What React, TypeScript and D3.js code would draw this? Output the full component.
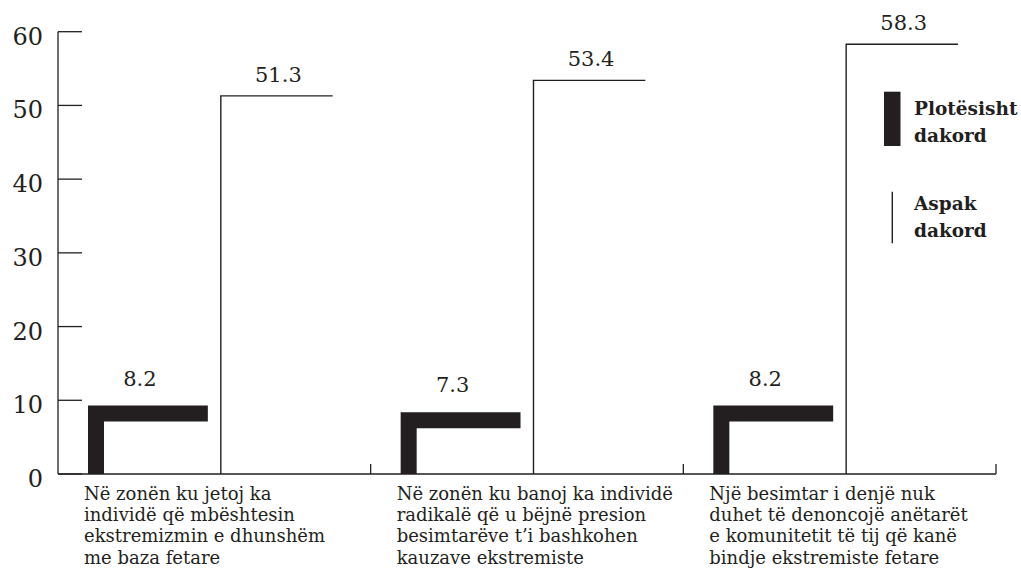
import React from "react";
import * as d3 from "d3";

const categories: string[][] = [
  ["Në zonën ku jetoj ka", "individë që mbështesin", "ekstremizmin e dhunshëm", "me baza fetare"],
  ["Në zonën ku banoj ka individë", "radikalë që u bëjnë presion", "besimtarëve t’i bashkohen", "kauzave ekstremiste"],
  ["Një besimtar i denjë nuk", "duhet të denoncojë anëtarët", "e komunitetit të tij që kanë", "bindje ekstremiste fetare"],
];
const categoryKeys = ["c1", "c2", "c3"];
const seriesNames = ["Plotësisht dakord", "Aspak dakord"];
const plotesisht = [8.2, 7.3, 8.2];
const aspak = [51.3, 53.4, 58.3];
const yTicks = [0, 10, 20, 30, 40, 50, 60];

const W = 1021;
const H = 576;
const INK = "#231f20";
const SERIF = "DejaVu Serif, serif";

export default function App() {
  const left = 58;
  const right = 996;
  const baseY = 474;
  const topY = 31.7;

  const x = d3.scaleBand<string>().domain(categoryKeys).range([left, right]).paddingInner(0).paddingOuter(0);
  const bw = x.bandwidth();
  const inner = d3.scaleBand<string>().domain(["s0", "s1"]).range([38, bw - 38]).paddingInner(0.104).paddingOuter(0);
  const y = d3.scaleLinear().domain([0, 60]).range([baseY, topY]);

  const series = [
    { key: "s0", values: plotesisht, sw: 16, thick: true },
    { key: "s1", values: aspak, sw: 1.4, thick: false },
  ];

  const line = d3.line<[number, number]>();
  const txt = { fontFamily: SERIF, fill: INK } as React.CSSProperties;

  return (
    <svg width={W} height={H} style={{ position: "absolute", left: 0, top: 0, background: "#fff" }}>
      {/* y axis */}
      <line x1={left} x2={left} y1={y(0)} y2={y(60)} stroke={INK} strokeWidth={1.3} />
      {yTicks.map((t) => (
        <g key={t}>
          <line x1={left} x2={left + 24} y1={y(t)} y2={y(t)} stroke={INK} strokeWidth={1.3} />
          <text x={43} y={y(t) + 13} textAnchor="end" fontSize={24} style={{ ...txt, fontVariantNumeric: "oldstyle-nums" }}>
            {t}
          </text>
        </g>
      ))}
      {/* baseline */}
      <line x1={left} x2={right} y1={baseY} y2={baseY} stroke={INK} strokeWidth={1.3} />
      {categoryKeys.map((c) => (
        <line key={c} x1={(x(c) as number) + bw} x2={(x(c) as number) + bw} y1={baseY} y2={baseY - 10} stroke={INK} strokeWidth={1.3} />
      ))}
      {/* bars */}
      {series.map((s) =>
        categoryKeys.map((c, i) => {
          const x0 = (x(c) as number) + (inner(s.key) as number);
          const x1 = x0 + inner.bandwidth();
          const v = s.values[i];
          const d = line([
            [x0, y(0)],
            [x0, y(v)],
            [x1, y(v)],
          ]) as string;
          const visualCenter = (x0 - s.sw / 2 + x1) / 2;
          return (
            <g key={s.key + c}>
              <path d={d} fill="none" stroke={INK} strokeWidth={s.sw} strokeLinejoin="miter" strokeLinecap="butt" />
              <text
                x={s.thick ? visualCenter - 8 : visualCenter + 2}
                y={y(v) - (s.thick ? 28 : 14)}
                textAnchor="middle"
                fontSize={21}
                style={{ ...txt, fontVariantNumeric: "oldstyle-nums" }}
              >
                {v.toFixed(1)}
              </text>
            </g>
          );
        })
      )}
      {/* category labels */}
      {categoryKeys.map((c, i) => (
        <text key={c} fontSize={18} style={txt}>
          {categories[i].map((ln, j) => (
            <tspan key={j} x={(x(c) as number) + 26} y={500 + j * 21.2}>
              {ln}
            </tspan>
          ))}
        </text>
      ))}
      {/* legend */}
      <rect x={884} y={91.7} width={16.5} height={54.3} fill={INK} />
      <text fontSize={18.5} fontWeight="bold" style={txt}>
        <tspan x={914} y={115}>{seriesNames[0].split(" ")[0]}</tspan>
        <tspan x={914} y={141.7}>{seriesNames[0].split(" ")[1]}</tspan>
      </text>
      <line x1={892.3} x2={892.3} y1={191.7} y2={243.3} stroke={INK} strokeWidth={1.4} />
      <text fontSize={18.5} fontWeight="bold" style={txt}>
        <tspan x={914} y={210}>{seriesNames[1].split(" ")[0]}</tspan>
        <tspan x={914} y={236.7}>{seriesNames[1].split(" ")[1]}</tspan>
      </text>
    </svg>
  );
}
